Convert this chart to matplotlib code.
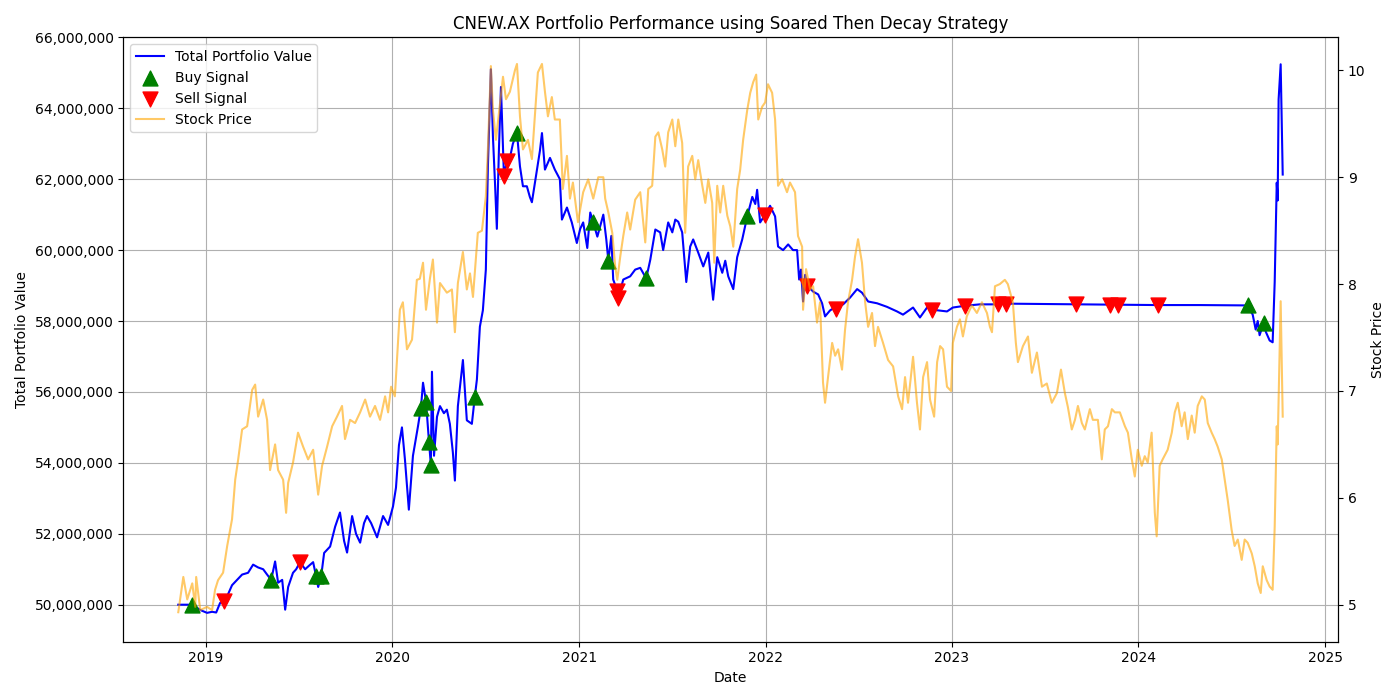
import matplotlib
matplotlib.use("Agg")
import matplotlib.pyplot as plt
import matplotlib.dates as mdates
import matplotlib.ticker as mticker
import pandas as pd
import numpy as np

# ---- data (decimal years) ----
pv_t = [2018.850, 2018.914, 2018.946, 2018.968, 2019.005, 2019.032, 2019.054, 2019.075, 2019.097, 2019.118,
        2019.139, 2019.166, 2019.193, 2019.225, 2019.252, 2019.279, 2019.306, 2019.327, 2019.349, 2019.370,
        2019.386, 2019.408, 2019.424, 2019.440, 2019.466, 2019.483, 2019.504, 2019.531, 2019.552, 2019.574,
        2019.590, 2019.601, 2019.617, 2019.633, 2019.665, 2019.692, 2019.718, 2019.740, 2019.756, 2019.783,
        2019.804, 2019.826, 2019.847, 2019.863, 2019.885, 2019.917, 2019.949, 2019.976, 2020.003, 2020.019,
        2020.035, 2020.051, 2020.067, 2020.088, 2020.110, 2020.137, 2020.153, 2020.164, 2020.180, 2020.196,
        2020.206, 2020.212, 2020.223, 2020.239, 2020.255, 2020.276, 2020.292, 2020.308, 2020.324, 2020.335,
        2020.351, 2020.378, 2020.399, 2020.426, 2020.442, 2020.453, 2020.469, 2020.485, 2020.501, 2020.512,
        2020.528, 2020.539, 2020.550, 2020.560, 2020.571, 2020.582, 2020.598, 2020.614, 2020.630, 2020.646,
        2020.668, 2020.684, 2020.700, 2020.721, 2020.737, 2020.748, 2020.775, 2020.791, 2020.802, 2020.818,
        2020.845, 2020.871, 2020.898, 2020.909, 2020.936, 2020.962, 2020.989, 2021.005, 2021.021, 2021.043,
        2021.059, 2021.075, 2021.097, 2021.129, 2021.145, 2021.156, 2021.172, 2021.182, 2021.204, 2021.209,
        2021.236, 2021.273, 2021.300, 2021.327, 2021.359, 2021.381, 2021.408, 2021.434, 2021.450, 2021.477,
        2021.499, 2021.515, 2021.531, 2021.552, 2021.574, 2021.595, 2021.611, 2021.638, 2021.665, 2021.692,
        2021.718, 2021.740, 2021.767, 2021.783, 2021.799, 2021.826, 2021.847, 2021.874, 2021.901, 2021.928,
        2021.944, 2021.954, 2021.970, 2021.997, 2022.024, 2022.051, 2022.067, 2022.094, 2022.121, 2022.147,
        2022.169, 2022.180, 2022.190, 2022.201, 2022.212, 2022.223, 2022.255, 2022.282, 2022.303, 2022.319,
        2022.346, 2022.378, 2022.416, 2022.453, 2022.491, 2022.517, 2022.550, 2022.598, 2022.651, 2022.705,
        2022.737, 2022.791, 2022.828, 2022.866, 2022.893, 2022.973, 2023.005, 2023.070, 2023.150, 2023.247,
        2023.290, 2023.665, 2023.847, 2023.890, 2024.105, 2024.330, 2024.587, 2024.614, 2024.630, 2024.641,
        2024.651, 2024.673, 2024.684, 2024.705, 2024.721, 2024.732, 2024.743, 2024.748, 2024.753, 2024.764,
        2024.775]
pv_m = [50.00, 50.00, 49.93, 49.85, 49.77, 49.80, 49.78, 50.05, 50.10, 50.30,
        50.55, 50.70, 50.85, 50.90, 51.13, 51.05, 51.00, 50.85, 50.70, 51.22,
        50.62, 50.70, 49.86, 50.50, 50.90, 51.00, 51.20, 51.00, 51.10, 51.20,
        50.80, 50.50, 50.80, 51.46, 51.64, 52.20, 52.60, 51.80, 51.47, 52.50,
        52.00, 51.75, 52.30, 52.50, 52.30, 51.90, 52.50, 52.25, 52.77, 53.30,
        54.50, 55.00, 54.10, 52.68, 54.20, 55.03, 55.56, 56.26, 55.73, 54.60,
        53.95, 56.57, 54.20, 55.30, 55.60, 55.40, 55.50, 55.10, 54.30, 53.50,
        55.60, 56.90, 55.20, 55.10, 55.87, 56.35, 57.84, 58.30, 59.45, 62.35,
        65.10, 63.20, 61.90, 60.60, 62.80, 64.60, 62.10, 62.50, 62.60, 63.00,
        63.30, 62.36, 61.80, 61.80, 61.50, 61.35, 62.27, 62.80, 63.30, 62.27,
        62.60, 62.27, 62.00, 60.86, 61.20, 60.78, 60.20, 60.60, 60.78, 60.06,
        61.06, 60.78, 60.38, 61.00, 60.30, 59.70, 60.40, 59.17, 58.85, 58.65,
        59.17, 59.26, 59.45, 59.50, 59.20, 59.73, 60.58, 60.50, 60.00, 60.78,
        60.50, 60.86, 60.80, 60.50, 59.10, 60.10, 60.30, 59.93, 59.54, 59.93,
        58.60, 59.80, 59.36, 59.70, 59.26, 58.90, 59.80, 60.30, 60.95, 61.50,
        61.30, 61.70, 60.78, 61.00, 61.25, 60.95, 60.10, 60.00, 60.16, 60.00,
        60.00, 59.17, 59.45, 58.55, 59.30, 59.00, 58.83, 58.75, 58.50, 58.13,
        58.30, 58.40, 58.47, 58.66, 58.90, 58.80, 58.55, 58.50, 58.40, 58.27,
        58.18, 58.38, 58.10, 58.38, 58.32, 58.27, 58.38, 58.43, 58.47, 58.47,
        58.49, 58.47, 58.46, 58.46, 58.45, 58.45, 58.44, 58.18, 57.76, 58.00,
        57.60, 57.95, 57.70, 57.45, 57.40, 59.10, 61.90, 61.40, 64.25, 65.24,
        62.13]

price_t = [2018.850, 2018.877, 2018.898, 2018.925, 2018.941, 2018.946, 2018.968, 2019.005, 2019.032, 2019.048,
           2019.064, 2019.091, 2019.113, 2019.139, 2019.156, 2019.172, 2019.193, 2019.220, 2019.247, 2019.263,
           2019.279, 2019.306, 2019.327, 2019.343, 2019.370, 2019.386, 2019.413, 2019.429, 2019.440, 2019.466,
           2019.493, 2019.520, 2019.547, 2019.574, 2019.601, 2019.622, 2019.649, 2019.676, 2019.702, 2019.729,
           2019.745, 2019.772, 2019.799, 2019.826, 2019.853, 2019.879, 2019.906, 2019.933, 2019.960, 2019.976,
           2019.992, 2020.013, 2020.040, 2020.056, 2020.078, 2020.105, 2020.131, 2020.147, 2020.164, 2020.180,
           2020.201, 2020.217, 2020.239, 2020.255, 2020.292, 2020.319, 2020.335, 2020.351, 2020.378, 2020.399,
           2020.416, 2020.432, 2020.458, 2020.480, 2020.501, 2020.512, 2020.528, 2020.539, 2020.555, 2020.571,
           2020.593, 2020.609, 2020.630, 2020.657, 2020.668, 2020.684, 2020.700, 2020.727, 2020.748, 2020.764,
           2020.780, 2020.802, 2020.818, 2020.834, 2020.855, 2020.871, 2020.898, 2020.914, 2020.936, 2020.952,
           2020.968, 2020.995, 2021.021, 2021.048, 2021.075, 2021.102, 2021.129, 2021.139, 2021.156, 2021.177,
           2021.193, 2021.204, 2021.220, 2021.236, 2021.257, 2021.273, 2021.300, 2021.327, 2021.354, 2021.370,
           2021.391, 2021.408, 2021.424, 2021.445, 2021.461, 2021.477, 2021.499, 2021.515, 2021.531, 2021.552,
           2021.568, 2021.584, 2021.606, 2021.622, 2021.638, 2021.660, 2021.676, 2021.692, 2021.713, 2021.724,
           2021.740, 2021.756, 2021.772, 2021.794, 2021.810, 2021.826, 2021.847, 2021.863, 2021.879, 2021.901,
           2021.917, 2021.933, 2021.949, 2021.960, 2021.981, 2021.997, 2022.013, 2022.035, 2022.051, 2022.067,
           2022.089, 2022.115, 2022.131, 2022.158, 2022.174, 2022.196, 2022.201, 2022.217, 2022.239, 2022.255,
           2022.276, 2022.292, 2022.308, 2022.319, 2022.335, 2022.357, 2022.373, 2022.389, 2022.410, 2022.426,
           2022.442, 2022.464, 2022.480, 2022.496, 2022.517, 2022.534, 2022.550, 2022.571, 2022.587, 2022.603,
           2022.630, 2022.657, 2022.684, 2022.711, 2022.732, 2022.748, 2022.764, 2022.791, 2022.812, 2022.828,
           2022.845, 2022.866, 2022.882, 2022.904, 2022.920, 2022.936, 2022.952, 2022.973, 2022.995, 2023.005,
           2023.027, 2023.043, 2023.059, 2023.080, 2023.107, 2023.134, 2023.161, 2023.188, 2023.204, 2023.215,
           2023.231, 2023.257, 2023.284, 2023.300, 2023.327, 2023.343, 2023.354, 2023.381, 2023.408, 2023.429,
           2023.456, 2023.483, 2023.509, 2023.536, 2023.563, 2023.585, 2023.606, 2023.622, 2023.643, 2023.660,
           2023.676, 2023.697, 2023.713, 2023.740, 2023.756, 2023.783, 2023.804, 2023.820, 2023.837, 2023.858,
           2023.874, 2023.901, 2023.928, 2023.944, 2023.965, 2023.981, 2023.997, 2024.019, 2024.035, 2024.051,
           2024.072, 2024.089, 2024.099, 2024.115, 2024.131, 2024.158, 2024.180, 2024.196, 2024.212, 2024.233,
           2024.249, 2024.266, 2024.287, 2024.303, 2024.319, 2024.341, 2024.357, 2024.373, 2024.394, 2024.410,
           2024.426, 2024.448, 2024.464, 2024.480, 2024.501, 2024.517, 2024.534, 2024.555, 2024.571, 2024.587,
           2024.609, 2024.625, 2024.641, 2024.657, 2024.668, 2024.689, 2024.705, 2024.721, 2024.732, 2024.743,
           2024.748, 2024.764, 2024.775]
price = [4.93, 5.26, 5.05, 5.20, 4.98, 5.26, 4.95, 4.98, 4.95, 5.14,
         5.23, 5.30, 5.55, 5.80, 6.17, 6.36, 6.64, 6.67, 7.01, 7.06,
         6.76, 6.92, 6.73, 6.26, 6.50, 6.26, 6.17, 5.86, 6.14, 6.33,
         6.61, 6.48, 6.36, 6.45, 6.03, 6.30, 6.48, 6.67, 6.76, 6.86,
         6.55, 6.73, 6.70, 6.80, 6.92, 6.76, 6.86, 6.73, 6.95, 6.80,
         7.04, 6.95, 7.76, 7.83, 7.39, 7.48, 8.04, 8.05, 8.20, 7.76,
         8.05, 8.23, 7.64, 8.01, 7.92, 7.95, 7.55, 8.01, 8.30, 7.95,
         8.10, 7.88, 8.48, 8.50, 8.82, 9.26, 10.04, 9.63, 9.35, 9.60,
         9.94, 9.73, 9.80, 10.00, 10.06, 9.57, 9.26, 9.35, 9.17, 9.57,
         9.98, 10.06, 9.80, 9.57, 9.75, 9.54, 9.54, 8.89, 9.20, 8.80,
         8.95, 8.58, 8.86, 8.98, 8.80, 9.00, 9.00, 8.80, 8.67, 8.48,
         8.16, 8.04, 8.26, 8.45, 8.67, 8.51, 8.79, 8.86, 8.39, 8.89,
         8.92, 9.38, 9.42, 9.26, 9.10, 9.42, 9.54, 9.29, 9.54, 9.32,
         8.48, 9.10, 9.20, 8.98, 9.16, 8.92, 8.76, 8.98, 8.76, 8.20,
         8.92, 8.67, 8.92, 8.64, 8.54, 8.35, 8.89, 9.07, 9.35, 9.63,
         9.79, 9.89, 9.96, 9.54, 9.66, 9.70, 9.87, 9.79, 9.54, 8.92,
         8.98, 8.86, 8.95, 8.86, 8.45, 8.35, 7.76, 8.14, 7.95, 7.98,
         7.64, 7.83, 7.08, 6.89, 7.13, 7.45, 7.33, 7.39, 7.20, 7.57,
         7.83, 8.04, 8.26, 8.42, 8.20, 7.83, 7.60, 7.73, 7.42, 7.60,
         7.45, 7.29, 7.23, 6.95, 6.83, 7.13, 6.89, 7.32, 6.89, 6.64,
         7.13, 7.27, 6.92, 6.76, 7.27, 7.42, 7.39, 7.04, 7.00, 7.45,
         7.60, 7.67, 7.51, 7.70, 7.80, 7.73, 7.83, 7.73, 7.60, 7.55,
         7.98, 8.00, 8.04, 8.00, 7.83, 7.45, 7.27, 7.42, 7.51, 7.17,
         7.36, 7.04, 7.07, 6.89, 6.98, 7.20, 6.98, 6.85, 6.64, 6.73,
         6.86, 6.70, 6.64, 6.83, 6.73, 6.73, 6.36, 6.64, 6.67, 6.83,
         6.80, 6.80, 6.67, 6.61, 6.36, 6.20, 6.45, 6.30, 6.39, 6.33,
         6.61, 5.86, 5.64, 6.30, 6.36, 6.45, 6.61, 6.80, 6.89, 6.67,
         6.80, 6.55, 6.77, 6.61, 6.86, 6.95, 6.92, 6.70, 6.61, 6.55,
         6.48, 6.36, 6.17, 5.98, 5.70, 5.55, 5.61, 5.42, 5.61, 5.58,
         5.48, 5.36, 5.20, 5.11, 5.36, 5.23, 5.17, 5.14, 5.73, 6.67,
         6.50, 7.84, 6.76]

buy_t = [2018.925, 2019.349, 2019.590, 2019.617, 2020.153, 2020.180, 2020.196, 2020.206,
         2020.442, 2020.668, 2021.075, 2021.156, 2021.359, 2021.901, 2024.587, 2024.673]
buy_m = [50.00, 50.70, 50.80, 50.80, 55.56, 55.73, 54.60, 53.95,
         55.87, 63.30, 60.78, 59.70, 59.20, 60.95, 58.44, 57.95]
sell_t = [2019.097, 2019.504, 2020.598, 2020.614, 2021.204, 2021.209, 2021.997, 2022.223,
          2022.378, 2022.893, 2023.070, 2023.247, 2023.290, 2023.665, 2023.847, 2023.890, 2024.105]
sell_m = [50.10, 51.20, 62.10, 62.50, 58.85, 58.65, 61.00, 59.00,
          58.35, 58.32, 58.43, 58.47, 58.49, 58.47, 58.46, 58.46, 58.45]


def to_dates(ts):
    out = []
    for t in ts:
        y = int(np.floor(t))
        out.append(pd.Timestamp(y, 1, 1) + pd.Timedelta(days=(t - y) * 365.25))
    return out


pv_d = to_dates(pv_t)
price_d = to_dates(price_t)
buy_d = to_dates(buy_t)
sell_d = to_dates(sell_t)
pv = np.array(pv_m) * 1e6
buy_v = np.array(buy_m) * 1e6
sell_v = np.array(sell_m) * 1e6

fig, ax1 = plt.subplots(figsize=(14, 7), dpi=100)
l1, = ax1.plot(pv_d, pv, color='blue', linewidth=1.5, label='Total Portfolio Value')
s1 = ax1.scatter(buy_d, buy_v, marker='^', color='green', s=115, label='Buy Signal', zorder=3)
s2 = ax1.scatter(sell_d, sell_v, marker='v', color='red', s=115, label='Sell Signal', zorder=3)
ax1.set_xlabel('Date')
ax1.set_ylabel('Total Portfolio Value')
ax1.yaxis.set_major_locator(mticker.MultipleLocator(2e6))
ax1.yaxis.set_major_formatter(mticker.FuncFormatter(lambda v, p: f'{v:,.0f}'))
ax1.set_ylim(48.956e6, 66.0e6)
ax1.grid(True)
ax1.xaxis.set_major_locator(mdates.YearLocator())
ax1.xaxis.set_major_formatter(mdates.DateFormatter('%Y'))
ax1.set_xlim(to_dates([2018.555])[0], to_dates([2025.070])[0])

ax2 = ax1.twinx()
l2, = ax2.plot(price_d, price, color='orange', alpha=0.6, linewidth=1.5, label='Stock Price')
ax2.set_ylabel('Stock Price')
ax2.set_ylim(4.654, 10.309)

handles = [l1, s1, s2, l2]
ax1.legend(handles, [h.get_label() for h in handles], loc='upper left')
ax1.set_title('CNEW.AX Portfolio Performance using Soared Then Decay Strategy')
fig.tight_layout()
fig.savefig('out.png', dpi=100)
